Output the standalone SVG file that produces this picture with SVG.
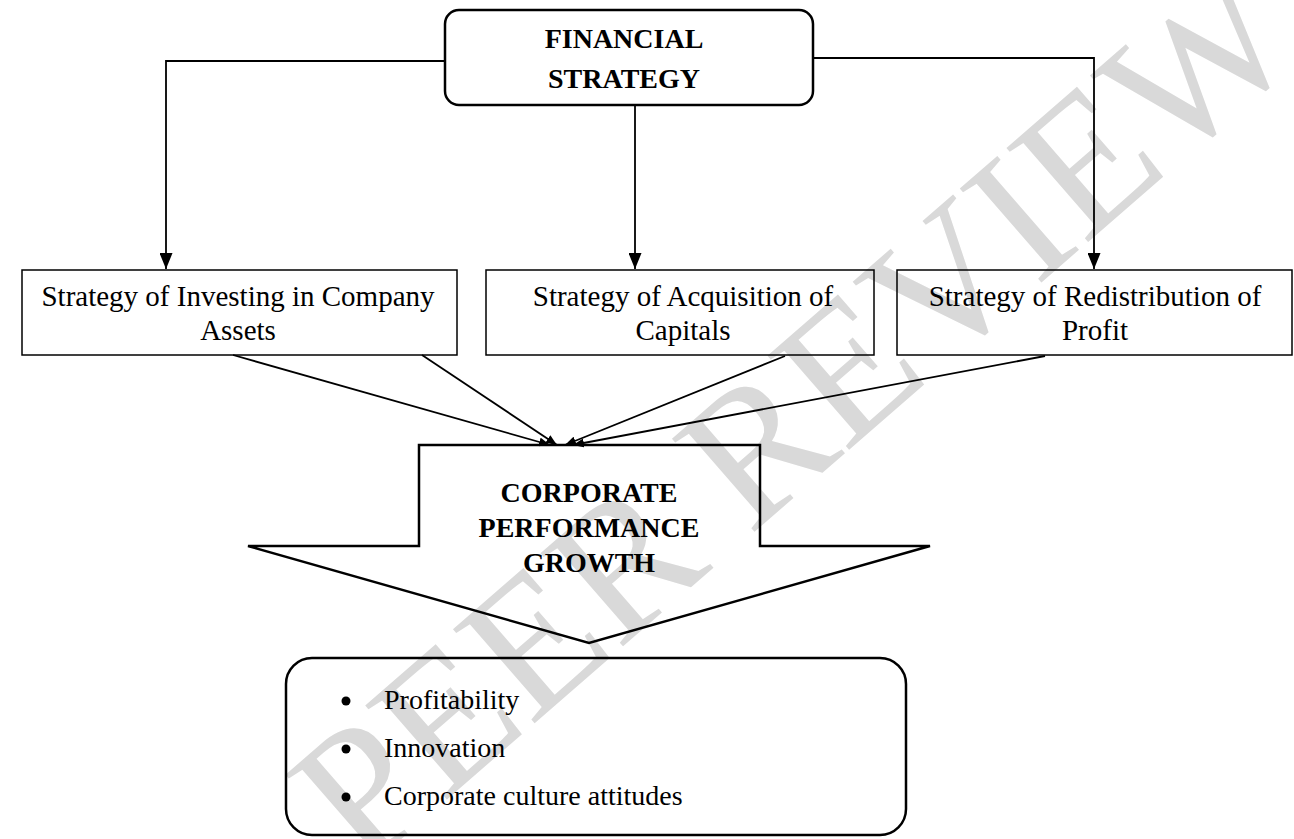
<svg xmlns="http://www.w3.org/2000/svg" width="1294" height="839" viewBox="0 0 1294 839">
<style>
  .bg{fill:#ffffff}
  .wm{font-family:"Liberation Serif","Times New Roman",serif;font-size:190px;fill:#d9d9d9}
  .node{fill:none;stroke:#000;stroke-width:1.5}
  .rnode{fill:none;stroke:#000;stroke-width:2.5}
  .big{fill:none;stroke:#000;stroke-width:2.5;stroke-linejoin:miter}
  .conn{fill:none;stroke:#000;stroke-width:1.8}
  .t{font-family:"Liberation Serif","Times New Roman",serif;font-size:29px;fill:#000;text-anchor:middle}
  .tb{font-family:"Liberation Serif","Times New Roman",serif;font-size:28px;font-weight:bold;fill:#000;text-anchor:middle}
  .tl{font-family:"Liberation Serif","Times New Roman",serif;font-size:28px;fill:#000}
</style>
<defs>
  <marker id="ah" viewBox="0 0 16 13" refX="16" refY="6.5" markerWidth="16" markerHeight="13" markerUnits="userSpaceOnUse" orient="auto">
    <path d="M0,0 L16,6.5 L0,13 z" fill="#000"/>
  </marker>
  <marker id="ahs" viewBox="0 0 11 9" refX="11" refY="4.5" markerWidth="11" markerHeight="9" markerUnits="userSpaceOnUse" orient="auto">
    <path d="M0,0 L11,4.5 L0,9 z" fill="#000"/>
  </marker>
</defs>
<rect class="bg" x="0" y="0" width="1294" height="839"/>
<g id="watermark">
  <text class="wm" x="835" y="462" text-anchor="middle" transform="rotate(-41 835 462)">PEER REVIEW</text>
</g>
<g id="connectors">
  <path class="conn" d="M445,61 H166 V269" marker-end="url(#ah)"/>
  <path class="conn" d="M635,105 V269" marker-end="url(#ah)"/>
  <path class="conn" d="M813,58 H1094 V269" marker-end="url(#ah)"/>
  <path class="conn" d="M233,355 L550,445" marker-end="url(#ahs)"/>
  <path class="conn" d="M422,355 L557,445" marker-end="url(#ahs)"/>
  <path class="conn" d="M785,356 L565,445" marker-end="url(#ahs)"/>
  <path class="conn" d="M1045,356 L573,445" marker-end="url(#ahs)"/>
</g>
<g id="financial-strategy">
  <rect class="rnode" x="445" y="10" width="368" height="95" rx="14"/>
  <text class="tb" x="624" y="48">FINANCIAL</text>
  <text class="tb" x="624" y="88">STRATEGY</text>
</g>
<g id="investing">
  <rect class="node" x="22" y="270" width="435" height="85"/>
  <text class="t" x="238" y="306">Strategy of Investing in Company</text>
  <text class="t" x="238" y="340">Assets</text>
</g>
<g id="acquisition">
  <rect class="node" x="486" y="270" width="388" height="85"/>
  <text class="t" x="683" y="306">Strategy of Acquisition of</text>
  <text class="t" x="683" y="340">Capitals</text>
</g>
<g id="redistribution">
  <rect class="node" x="897" y="270" width="395" height="85"/>
  <text class="t" x="1095" y="306">Strategy of Redistribution of</text>
  <text class="t" x="1095" y="340">Profit</text>
</g>
<g id="growth">
  <path class="big" d="M419,445 H760 V546 H930 L589,643 L248,546 H419 Z"/>
  <text class="tb" x="589" y="502">CORPORATE</text>
  <text class="tb" x="589" y="537">PERFORMANCE</text>
  <text class="tb" x="589" y="572">GROWTH</text>
</g>
<g id="outcomes">
  <rect class="rnode" x="286" y="658" width="620" height="177" rx="26"/>
  <circle cx="346" cy="701" r="4.5" fill="#000"/>
  <circle cx="346" cy="749" r="4.5" fill="#000"/>
  <circle cx="346" cy="797" r="4.5" fill="#000"/>
  <text class="tl" x="384" y="709">Profitability</text>
  <text class="tl" x="384" y="757">Innovation</text>
  <text class="tl" x="384" y="805">Corporate culture attitudes</text>
</g>
</svg>
